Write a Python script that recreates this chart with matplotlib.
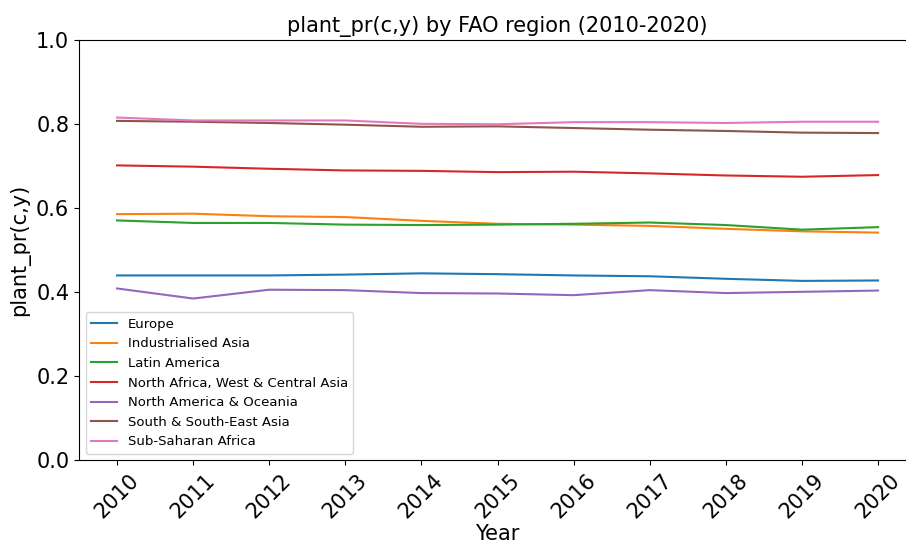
import matplotlib
matplotlib.use("Agg")
import matplotlib.pyplot as plt

years = list(range(2010, 2021))

europe = [0.440, 0.440, 0.440, 0.442, 0.445, 0.443, 0.440, 0.438, 0.432, 0.427, 0.428]
industrialised_asia = [0.586, 0.587, 0.581, 0.579, 0.570, 0.563, 0.561, 0.558, 0.551, 0.545, 0.542]
latin_america = [0.571, 0.565, 0.565, 0.561, 0.560, 0.561, 0.563, 0.566, 0.560, 0.549, 0.555]
north_africa = [0.702, 0.699, 0.694, 0.690, 0.689, 0.686, 0.687, 0.683, 0.678, 0.675, 0.679]
north_america = [0.409, 0.385, 0.406, 0.405, 0.398, 0.397, 0.393, 0.405, 0.398, 0.401, 0.404]
south_asia = [0.808, 0.806, 0.803, 0.799, 0.794, 0.795, 0.791, 0.787, 0.784, 0.780, 0.779]
sub_saharan = [0.816, 0.809, 0.809, 0.809, 0.801, 0.800, 0.805, 0.805, 0.803, 0.806, 0.806]

regions = ["Europe", "Industrialised Asia", "Latin America",
           "North Africa, West & Central Asia", "North America & Oceania",
           "South & South-East Asia", "Sub-Saharan Africa"]
series = [europe, industrialised_asia, latin_america, north_africa,
          north_america, south_asia, sub_saharan]

fig = plt.figure(figsize=(9.06, 5.44), dpi=100)
# the reference is cropped on the right, so the axes run past the edge
ax = fig.add_axes([0.0872, 0.154, 0.924, 0.772])

for name, vals in zip(regions, series):
    ax.plot(years, vals, label=name, linewidth=1.5)

ax.set_ylim(0, 1.0)
ax.set_xticks(years)
ax.set_xticklabels([str(y) for y in years], rotation=45, fontsize=15)
ax.tick_params(axis="y", labelsize=15)
ax.set_xlabel("Year", fontsize=15, labelpad=2)
ax.set_ylabel("plant_pr(c,y)", fontsize=15)
ax.set_title("plant_pr(c,y) by FAO region (2010-2020)", fontsize=15)
ax.legend(loc="lower left", fontsize=9.5)

fig.savefig("out.png", dpi=100)
